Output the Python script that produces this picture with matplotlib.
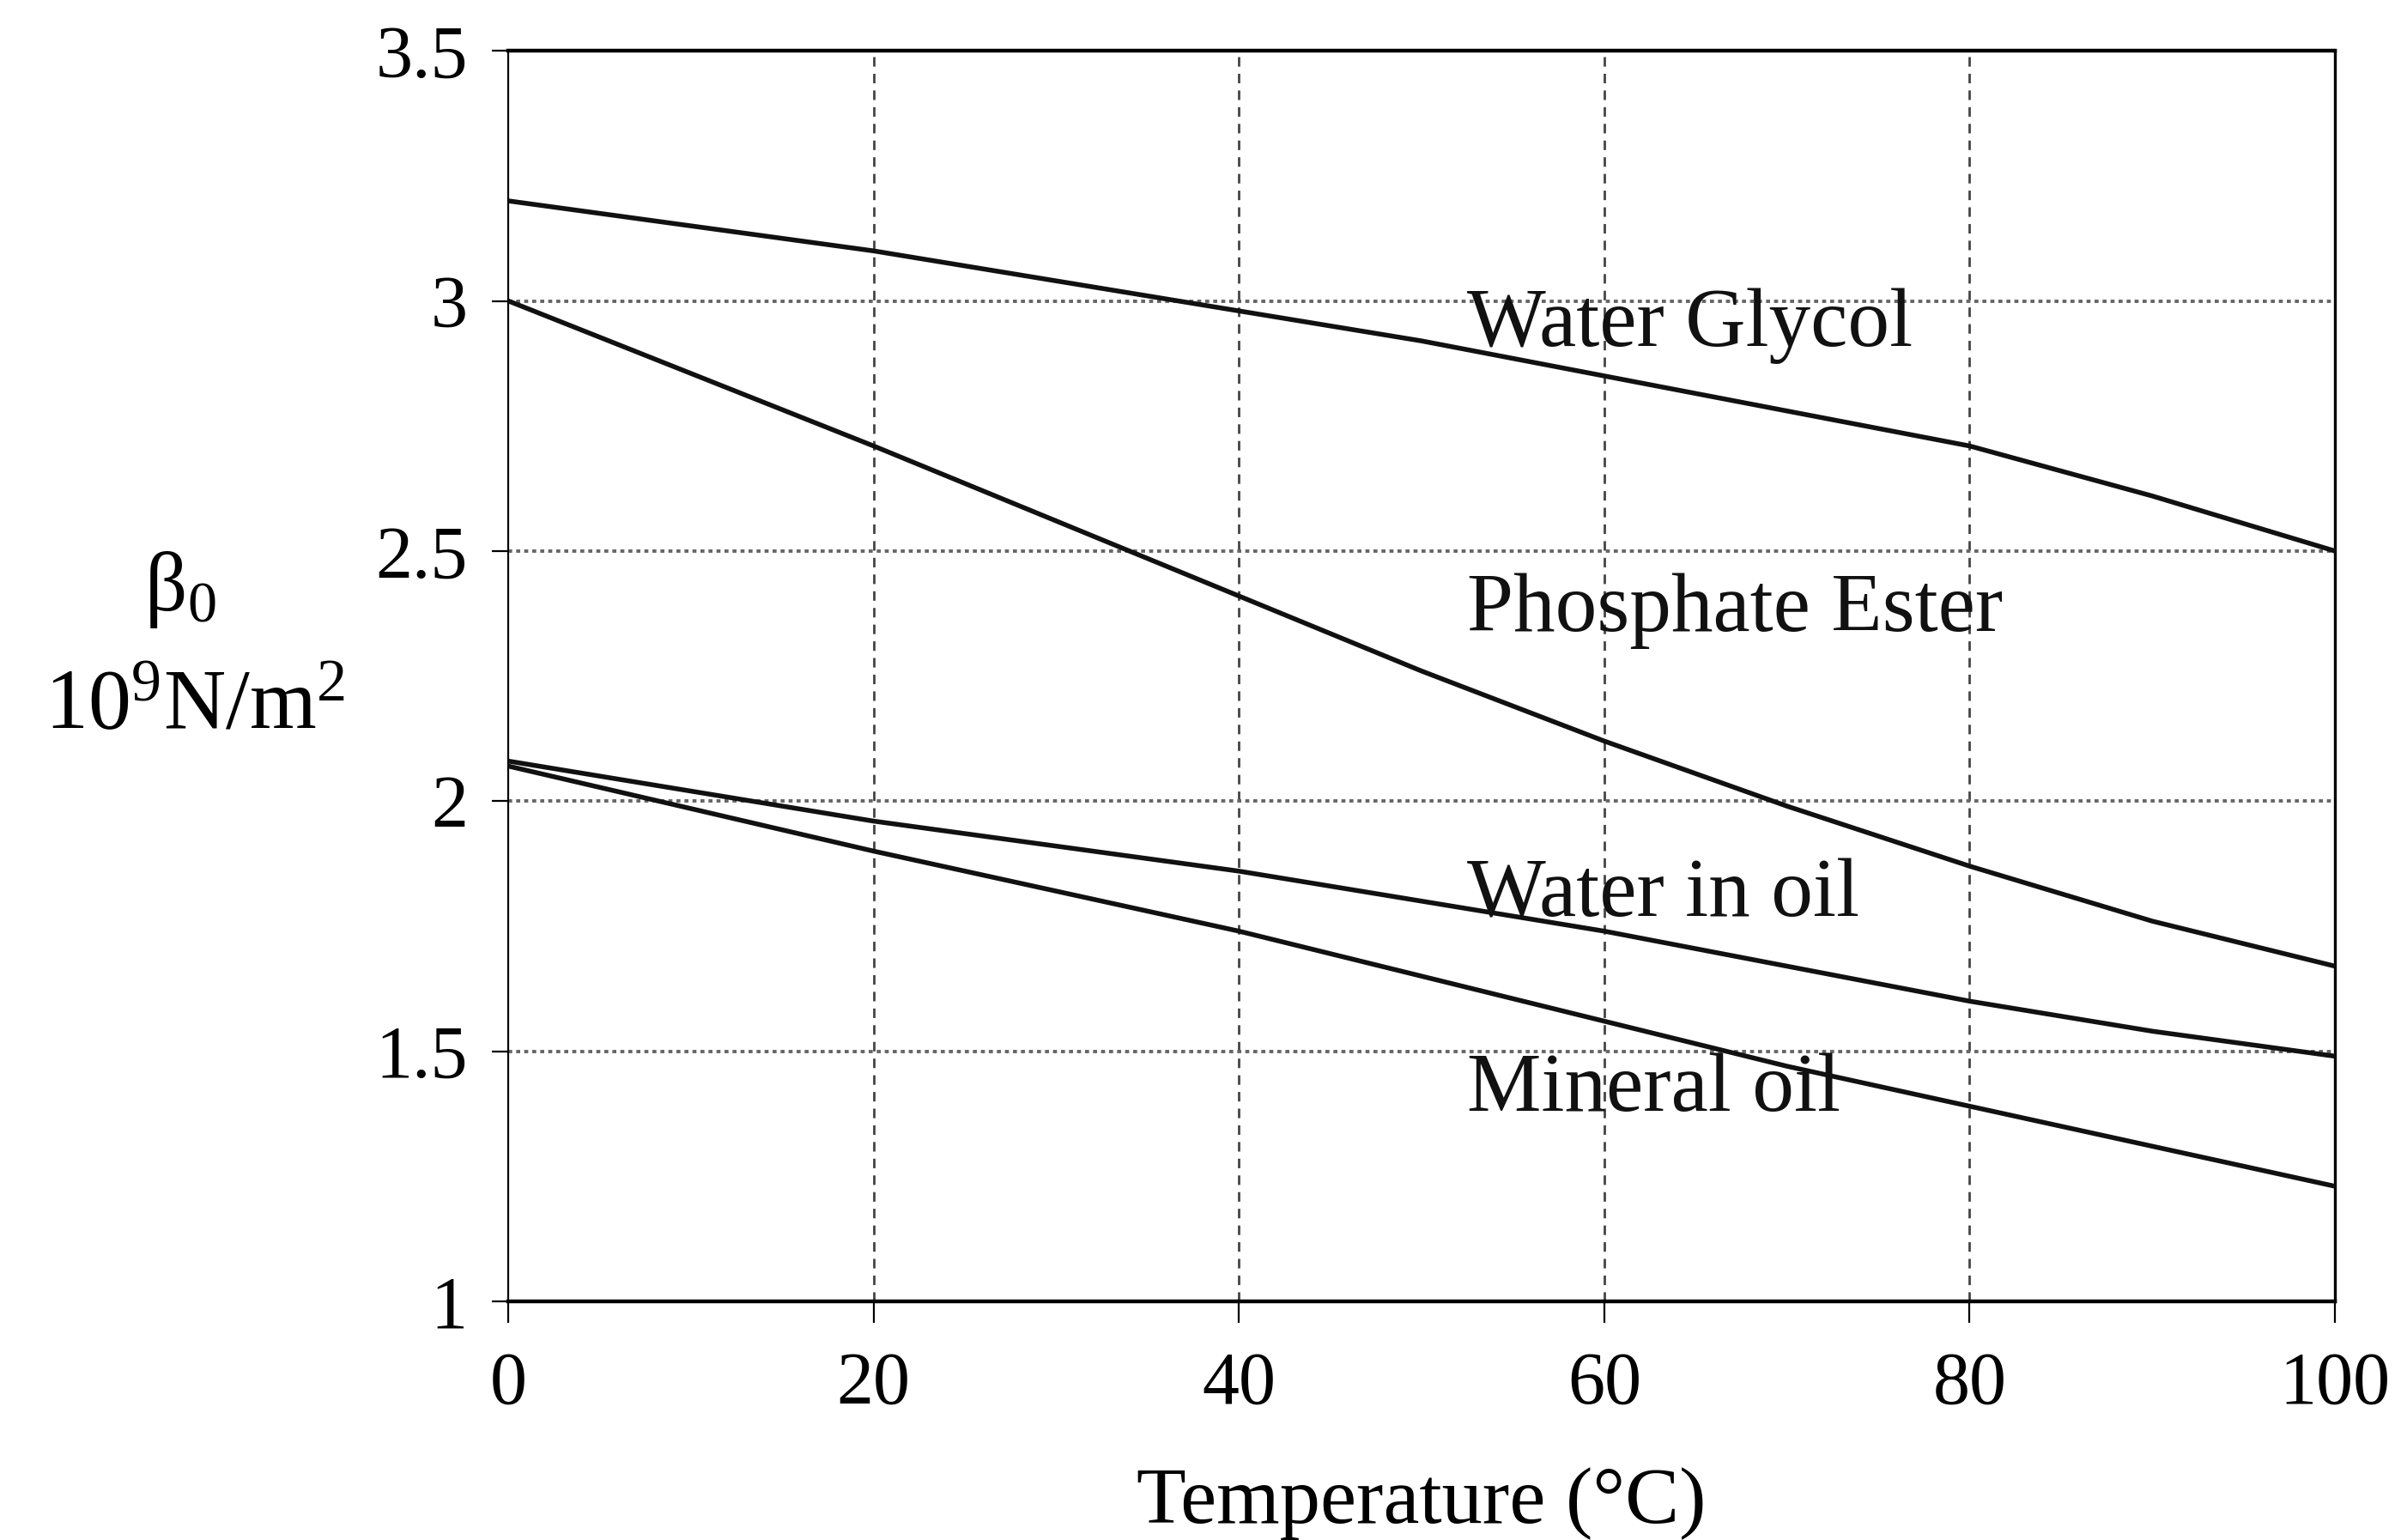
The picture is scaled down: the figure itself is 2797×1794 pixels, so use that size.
import numpy as np
import matplotlib.pyplot as plt

# Данные
temperature = [0, 20, 40, 50, 60, 70, 80, 90, 100]
water_glycol = [3.20, 3.10, 2.98, 2.92, 2.85, 2.78, 2.71, 2.61, 2.50]
phosphate_ester = [3.00, 2.71, 2.41, 2.26, 2.12, 1.99, 1.87, 1.76, 1.67]
water_in_oil = [2.08, 1.96, 1.86, 1.80, 1.74, 1.67, 1.60, 1.54, 1.49]
mineral_oil = [2.07, 1.90, 1.74, 1.65, 1.56, 1.47, 1.39, 1.31, 1.23]

labels = ['Water Glycol', 'Phosphate Ester', 'Water in oil', 'Mineral oil']
label_y = [2.95, 2.38, 1.81, 1.42]
label_x = 52.5

plt.rcParams['font.family'] = ['Liberation Serif', 'DejaVu Serif']
plt.rcParams['mathtext.fontset'] = 'custom'
plt.rcParams['mathtext.rm'] = 'Liberation Serif'
plt.rcParams['mathtext.it'] = 'Liberation Serif'


def main():
    fig = plt.figure(figsize=(13.985, 8.97), dpi=200)
    ax = fig.add_axes([0.2117, 0.155, 0.7608, 0.812])

    for series in (water_glycol, phosphate_ester, water_in_oil, mineral_oil):
        ax.plot(temperature, series, color='#111111', lw=2.0, solid_capstyle='butt', zorder=3)

    for text, y in zip(labels, label_y):
        ax.text(label_x, y, text, fontsize=35, va='center', ha='left', color='#111111', zorder=4)

    ax.set_xlim(0, 100)
    ax.set_ylim(1, 3.5)
    ax.set_xticks([0, 20, 40, 60, 80, 100])
    ax.set_yticks([1, 1.5, 2, 2.5, 3, 3.5])
    ax.set_yticklabels(['1', '1.5', '2', '2.5', '3', '3.5'])

    # Сетка: вертикальные штриховые, горизонтальные точечные
    for x in [20, 40, 60, 80]:
        ax.axvline(x, color='#444444', lw=1.0, ls=(0, (4, 3)), zorder=1)
    for y in [1.5, 2, 2.5, 3]:
        ax.axhline(y, color='#666666', lw=1.4, ls=(0, (1.2, 1.2)), zorder=1)

    ax.spines['top'].set_linewidth(1.6)
    ax.spines['bottom'].set_linewidth(1.6)
    ax.spines['left'].set_linewidth(0.8)
    ax.spines['right'].set_linewidth(1.2)

    ax.tick_params(axis='x', direction='out', length=9, width=0.8, pad=12, labelsize=31)
    ax.tick_params(axis='y', direction='out', length=7, width=0.8, pad=10, labelsize=31)

    ax.set_xlabel('Temperature (°C)', fontsize=34, labelpad=20)

    fig.text(0.075, 0.617, r'β$_0$', fontsize=35, ha='center', va='center')
    fig.text(0.081, 0.54, r'10$^9$N/m$^2$', fontsize=36, ha='center', va='center')

    fig.savefig('out.png', dpi=200, facecolor='white')


if __name__ == '__main__':
    main()
